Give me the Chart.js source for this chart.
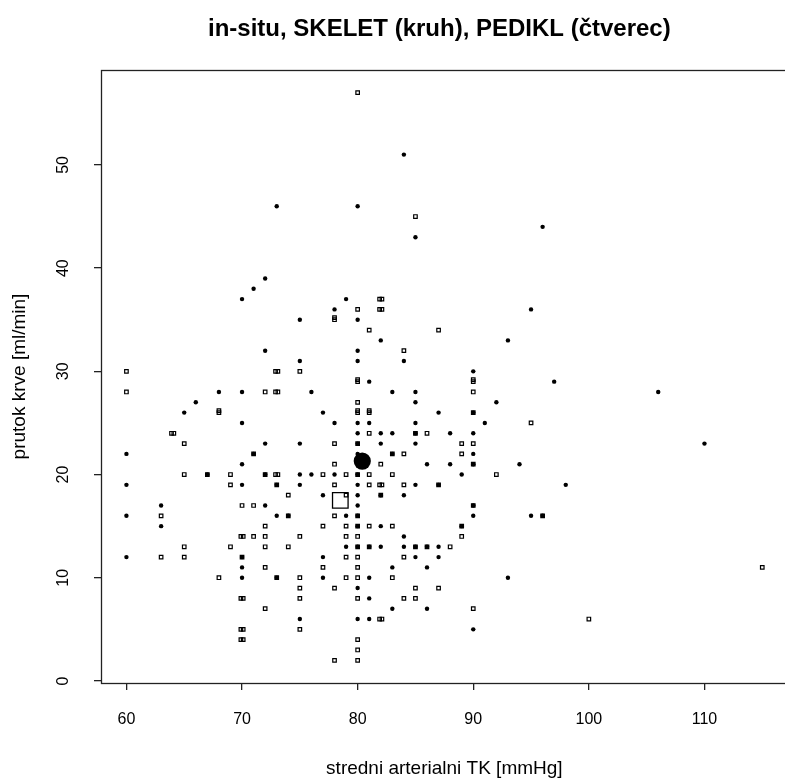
<!DOCTYPE html>
<html>
<head>
<meta charset="utf-8">
<script src="https://cdn.jsdelivr.net/npm/chart.js@4/dist/chart.umd.min.js"></script>
<style>
  html, body { margin: 0; padding: 0; background: #fff; overflow: hidden; }
  #wrap { position: relative; width: 800px; height: 781px; }
</style>
</head>
<body>
<div id="wrap"><canvas id="c" width="800" height="781"></canvas></div>
<script>
// Mean arterial pressure [mmHg] and blood flow [ml/min], SKELET (circles)
const skeletMap = [
  73,72,71,84,80,85,96,
  70,75,72,75,68,70,76,66,65,77,70,72,75,60,71,70,67,72,75,76,60,70,73,75,77,
  79,78,95,80,82,93,80,80,84,90,81,83,85,85,92,87,90,78,80,81,85,91,80,82,83,85,88,90,80,82,85,80,83,90,86,88,90,94,78,80,89,80,85,87,
  97,106,110,98,
  63,72,60,73,74,63,60,70,77,70,70,73,77,75,
  80,82,84,80,90,79,80,90,95,96,80,82,89,84,79,80,81,82,84,85,86,87,85,87,83,86,81,93,80,81,83,86,80,81,90
];
const skeletFlow = [
  46,39,38,51,46,43,44,
  37,35,32,31,28,28,28,27,26,26,25,23,23,22,22,21,20,20,20,20,19,19,19,19,18,
  37,36,36,35,33,33,32,31,31,30,29,28,28,27,27,26,26,25,25,25,25,25,24,24,24,24,24,24,23,23,23,22,22,22,21,21,21,21,20,20,20,19,19,19,
  29,28,23,19,
  17,17,16,16,16,15,12,12,12,11,10,10,10,6,
  18,18,18,17,17,16,16,16,16,16,15,15,15,14,13,13,13,13,13,13,13,13,12,12,11,11,10,10,9,8,7,7,6,6,5
];

// PEDIKL (squares)
const pediklMap = [
  80,85,
  60,72.9,73.1,75,60,72,72.9,73.1,68,68,63.9,64.1,65,71,65,67,69,72,72.9,73.1,77,69,73,74,
  81.9,82.1,80,81.9,82.1,78,78,81,87,84,80,80,90,90,90,80,80,80,81,81,90,95,81,85,86,78,80,89,90,83,84,89,78,82,90,79,80,81,83,92,78,81,81.9,82.1,84,87,
  70,71,63,74,72,77,69.9,70.1,71,72,75,65,69,72,74,63,65,70,72,77,68,73,75,75,69.9,70.1,75,72,69.9,70.1,75,69.9,70.1,
  79,82,90,78,80,96,79,80,81,83,89,79,80,89,80,81,85,86,88,79,80,84,80,79,80,83,78,85,87,80,84,85,90,81.9,82.1,80,80,78,80,
  100,115
];
const pediklFlow = [
  57,45,
  30,30,30,30,28,28,28,28,26,26.2,24,24,23,22,20,20,20,20,20,20,20,19,19,18,
  37,37,36,36,36,35,35.2,34,34,32,29,29.2,29,29.2,28,27,26,26.2,26,26.2,26,25,24,24,24,23,23,23,23,22,22,22,21,21,21,20,20,20,20,20,19,19,19,19,19,19,
  17,17,16,16,15,15,14,14,14,14,14,13,13,13,13,12,12,12,11,11,10,10,10,9,8,8,8,7,5,5,5,4,4,
  18,18,17,16,16,16,15,15,15,15,15,14,14,14,13,13,13,13,13,12,12,12,11,10,10,10,9,9,9,8,8,8,7,6,6,4,3,2,2,
  6,11
];

// Group means (large markers)
const skeletMean = [80.4, 21.3];
const pediklMean = [78.5, 17.5];

const xTicks = [60, 70, 80, 90, 100, 110];
const yTicks = [0, 10, 20, 30, 40, 50];

const titleText = 'in-situ, SKELET (kruh), PEDIKL (čtverec)';
const xTitle = 'stredni arterialni TK [mmHg]';
const yTitle = 'prutok krve [ml/min]';

const FONT = "'Liberation Sans', Arial, Helvetica, sans-serif";

const toPoints = (xs, ys) => xs.map((v, i) => ({ x: v, y: ys[i] }));

// Draw one text item centred at (x, y), optionally rotated
function drawText(ctx, text, x, y, size, bold, rotate) {
  ctx.save();
  ctx.translate(x, y);
  if (rotate) ctx.rotate(-Math.PI / 2);
  ctx.font = (bold ? 'bold ' : '') + size + 'px ' + FONT;
  ctx.fillStyle = '#000';
  ctx.textAlign = 'center';
  ctx.textBaseline = 'middle';
  ctx.fillText(text, 0, 0);
  ctx.restore();
}

// Box around the plot region, tick labels, title and axis titles
const framePlugin = {
  id: 'frame',
  afterDraw(chart) {
    const { ctx, chartArea: a, scales: { x, y } } = chart;
    ctx.save();
    ctx.strokeStyle = '#222';
    ctx.lineWidth = 1.3;
    ctx.strokeRect(Math.round(a.left) + 0.5, Math.round(a.top) + 0.5,
                   Math.round(a.right - a.left), Math.round(a.bottom - a.top));
    ctx.restore();

    for (const t of y.ticks) {
      drawText(ctx, String(t.value), 64, y.getPixelForValue(t.value), 16, false, true);
    }
    for (const t of x.ticks) {
      drawText(ctx, String(t.value), x.getPixelForValue(t.value), 720, 16, false, false);
    }

    const cx = (a.left + a.right) / 2;
    drawText(ctx, titleText, cx - 5, 29, 24, true, false);
    drawText(ctx, xTitle, cx, 769, 19, false, false);
    drawText(ctx, yTitle, 20, (a.top + a.bottom) / 2, 19, false, true);
  }
};

new Chart(document.getElementById('c'), {
  type: 'scatter',
  data: {
    datasets: [
      {
        label: 'SKELET',
        data: toPoints(skeletMap, skeletFlow),
        pointStyle: 'circle',
        pointRadius: 2.2,
        pointBorderWidth: 0,
        backgroundColor: '#000',
        borderColor: '#000'
      },
      {
        label: 'PEDIKL',
        data: toPoints(pediklMap, pediklFlow),
        pointStyle: 'rect',
        pointRadius: 2.5,
        pointBorderWidth: 1.2,
        backgroundColor: 'rgba(0,0,0,0)',
        borderColor: '#000'
      },
      {
        label: 'SKELET mean',
        data: [{ x: skeletMean[0], y: skeletMean[1] }],
        pointStyle: 'circle',
        pointRadius: 8.6,
        pointBorderWidth: 0,
        backgroundColor: '#000',
        borderColor: '#000'
      },
      {
        label: 'PEDIKL mean',
        data: [{ x: pediklMean[0], y: pediklMean[1] }],
        pointStyle: 'rect',
        pointRadius: 11,
        pointBorderWidth: 1.3,
        backgroundColor: 'rgba(0,0,0,0)',
        borderColor: '#000'
      }
    ]
  },
  options: {
    responsive: false,
    animation: false,
    devicePixelRatio: 1,
    layout: { padding: { top: 70, right: 6, left: 0, bottom: 0 } },
    plugins: {
      legend: { display: false },
      tooltip: { enabled: false },
      title: { display: false }
    },
    scales: {
      x: {
        type: 'linear',
        min: 57.8,
        max: 117.2,
        afterBuildTicks: (s) => { s.ticks = xTicks.map(v => ({ value: v })); },
        afterFit: (s) => { s.height = 98; },
        border: { display: false },
        grid: { drawOnChartArea: false, drawTicks: true, tickLength: 7, color: '#222', lineWidth: 1.3 },
        ticks: { display: false }
      },
      y: {
        type: 'linear',
        min: -0.2,
        max: 59.2,
        afterBuildTicks: (s) => { s.ticks = yTicks.map(v => ({ value: v })); },
        afterFit: (s) => { s.width = 101; },
        border: { display: false },
        grid: { drawOnChartArea: false, drawTicks: true, tickLength: 7, color: '#222', lineWidth: 1.3 },
        ticks: { display: false }
      }
    }
  },
  plugins: [framePlugin]
});
</script>
</body>
</html>
